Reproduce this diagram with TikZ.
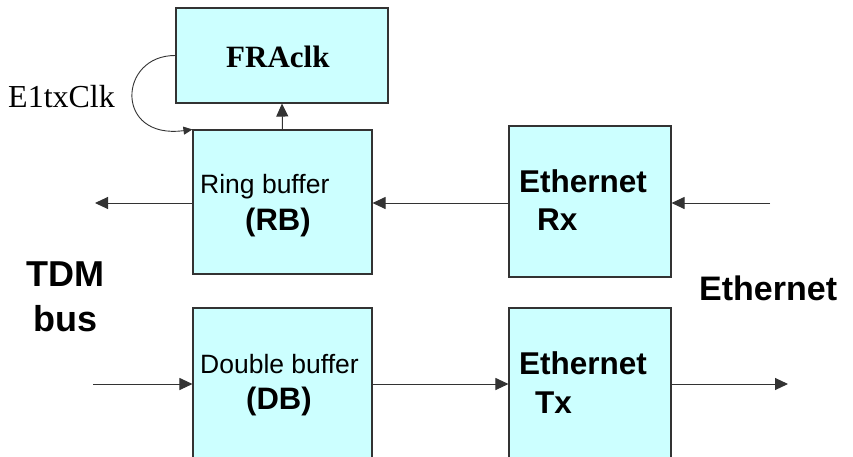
\documentclass[tikz,border=0pt]{standalone}
\usepackage{fontspec}
\setmainfont{Liberation Serif}
\newfontfamily\arialf{Liberation Sans}
\usetikzlibrary{arrows.meta}
\definecolor{boxfill}{HTML}{CCFFFF}
\definecolor{linec}{HTML}{333333}
\tikzset{
  blk/.style={draw=linec, line width=1.1pt, fill=boxfill, inner sep=0pt},
  lbl/.style={anchor=base west, inner sep=0pt, text=black},
  conn/.style={draw=linec, line width=1pt, -{Triangle[length=13pt,width=12pt]}},
  smallconn/.style={draw=linec, line width=0.9pt, -{Triangle[length=9pt,width=8pt]}}
}
\begin{document}
\begin{tikzpicture}[x=1pt,y=-1pt]
\useasboundingbox (0,0) rectangle (853,456);
\clip (0,0) rectangle (853,456);
\fill[white] (0,0) rectangle (853,456);
% boxes
\node[blk, minimum width=212pt, minimum height=95pt] (FRA) at (282,55.5) {};
\node[blk, minimum width=179pt, minimum height=144pt] (RB) at (282.5,202) {};
\node[blk, minimum width=162pt, minimum height=151pt] (RX) at (590,201.5) {};
\node[blk, minimum width=179pt, minimum height=170pt] (DB) at (282.5,393) {};
\node[blk, minimum width=162pt, minimum height=170pt] (TX) at (590,393) {};
% texts
\node[lbl, font=\bfseries\fontsize{31}{31}\selectfont] (tFRA) at (226,67) {FRAclk};
\node[lbl, font=\fontsize{32}{32}\selectfont] (tE1) at (8,107) {E1txClk};
\node[lbl, font=\arialf\fontsize{26.5}{26.5}\selectfont] (tRB1) at (200,193) {Ring buffer};
\node[lbl, font=\arialf\bfseries\fontsize{31}{31}\selectfont] (tRB2) at (245,230) {(RB)};
\node[lbl, font=\arialf\bfseries\fontsize{31.5}{31.5}\selectfont] (tRX1) at (519,192) {Ethernet};
\node[lbl, font=\arialf\bfseries\fontsize{31.5}{31.5}\selectfont] (tRX2) at (537,230) {Rx};
\node[lbl, font=\arialf\fontsize{26.5}{26.5}\selectfont] (tDB1) at (200,373) {Double buffer};
\node[lbl, font=\arialf\bfseries\fontsize{31}{31}\selectfont] (tDB2) at (246,409) {(DB)};
\node[lbl, font=\arialf\bfseries\fontsize{31.5}{31.5}\selectfont] (tTX1) at (519,374) {Ethernet};
\node[lbl, font=\arialf\bfseries\fontsize{31.5}{31.5}\selectfont] (tTX2) at (535,413) {Tx};
\node[lbl, font=\arialf\bfseries\fontsize{36}{36}\selectfont] (tTDM) at (26,286) {TDM};
\node[lbl, font=\arialf\bfseries\fontsize{36}{36}\selectfont] (tBUS) at (33,331) {bus};
\node[lbl, font=\arialf\bfseries\fontsize{34}{34}\selectfont] (tETH) at (699,300) {Ethernet};
% free ends
\coordinate (rowA) at (0,203);
\coordinate (rowB) at (0,384);
\coordinate (outL) at (95,203);
\coordinate (inR) at (770,203);
\coordinate (inL) at (93,384);
\coordinate (outR) at (788,384);
% connectors
\draw[conn] (RB.west |- rowA) -- (outL);
\draw[conn] (RX.west |- rowA) -- (RB.east |- rowA);
\draw[conn] (inR) -- (RX.east |- rowA);
\draw[conn] (inL) -- (DB.west |- rowB);
\draw[conn] (DB.east |- rowB) -- (TX.west |- rowB);
\draw[conn] (TX.east |- rowB) -- (outR);
\draw[conn] (RB.north) -- (FRA.south);
\draw[smallconn] (FRA.west) .. controls (118,55) and (114,140) .. (RB.north west);
\end{tikzpicture}
\end{document}
